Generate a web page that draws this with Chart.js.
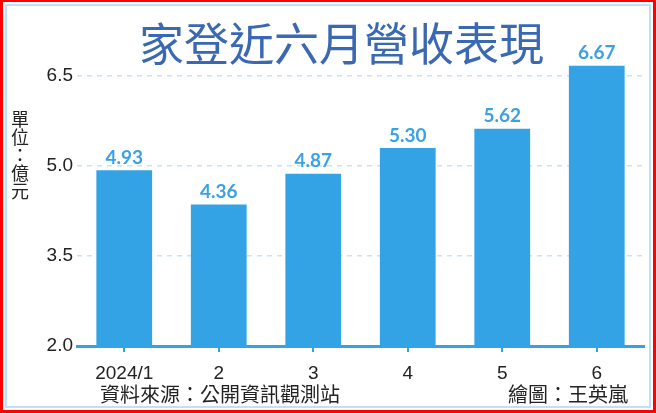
<!DOCTYPE html>
<html>
<head>
<meta charset="utf-8">
<script src="https://cdn.jsdelivr.net/npm/chart.js@4"></script>
<style>
    html, body { margin: 0; padding: 0; background: #fff; }
    #wrap { position: relative; width: 656px; height: 413px; overflow: hidden; font-family: "Noto Sans CJK TC", sans-serif; }
    #outer { position: absolute; left: 0; top: 0; width: 650px; height: 408px; border: 3px solid #ff0000; border-top-width: 2px; }
    #inner { position: absolute; left: 5px; top: 4px; width: 642px; height: 400px; border: 2px solid #bfe0f8; }
    canvas { position: absolute; left: 0; top: 0; }
    .txt { position: absolute; white-space: nowrap; color: #222; }
    #title { left: 139px; top: 9px; font-size: 45px; font-weight: 400; color: #3a68b3; }
    #unit { left: 11px; top: 110px; font-size: 18px; writing-mode: vertical-rl; line-height: 1; }
    #source { left: 100px; top: 382px; font-size: 20px; line-height: 1.2; }
    #credit { right: 28px; top: 382px; font-size: 20px; line-height: 1.2; }
</style>
</head>
<body>
<div id="wrap">
    <div id="outer"></div>
    <div id="inner"></div>
    <canvas id="revChart" width="656" height="413"></canvas>
    <div class="txt" id="title">家登近六月營收表現</div>
    <div class="txt" id="unit">單位：億元</div>
    <div class="txt" id="source">資料來源：公開資訊觀測站</div>
    <div class="txt" id="credit">繪圖：王英嵐</div>
</div>
<script>
// Monthly revenue (NT$ 100 million)
const months = ['2024/1', '2', '3', '4', '5', '6'];
const revenue = [4.93, 4.36, 4.87, 5.30, 5.62, 6.67];
const yTicks = [2.0, 3.5, 5.0, 6.5];

const barBlue = '#34a3e5';

// Value labels above each bar
const valueLabels = {
    id: 'valueLabels',
    afterDatasetsDraw(chart) {
        const ctx = chart.ctx;
        const meta = chart.getDatasetMeta(0);
        ctx.save();
        ctx.font = 'bold 19px Lato';
        ctx.fillStyle = '#3aa2e4';
        ctx.textAlign = 'center';
        ctx.textBaseline = 'bottom';
        meta.data.forEach((bar, i) => {
            ctx.fillText(revenue[i].toFixed(2), bar.x, bar.y - 3);
        });
        ctx.restore();
    },
};

new Chart(document.getElementById('revChart').getContext('2d'), {
    type: 'bar',
    data: {
        labels: months,
        datasets: [{
            data: revenue,
            backgroundColor: barBlue,
            barPercentage: 0.59,
            categoryPercentage: 1,
        }],
    },
    options: {
        responsive: false,
        animation: false,
        layout: { padding: { left: 0, right: 12, top: 46, bottom: 27 } },
        plugins: {
            legend: { display: false },
            tooltip: { enabled: false },
        },
        scales: {
            x: {
                offset: true,
                grid: {
                    offset: false,
                    drawOnChartArea: false,
                    drawTicks: true,
                    tickLength: 6,
                    color: barBlue,
                    lineWidth: 2,
                },
                border: { display: true, color: barBlue, width: 3 },
                ticks: {
                    color: '#222',
                    font: { family: 'Liberation Sans', size: 19 },
                    padding: 10,
                    maxRotation: 0,
                    autoSkip: false,
                },
                afterFit(scale) { scale.height = 40; },
            },
            y: {
                min: 2,
                max: 7,
                afterBuildTicks(scale) {
                    scale.ticks = yTicks.map(v => ({ value: v }));
                },
                ticks: {
                    color: '#222',
                    font: { family: 'Liberation Sans', size: 19 },
                    padding: 4,
                    callback: (v) => Number(v).toFixed(1),
                },
                grid: {
                    color: '#c6e4f8',
                    lineWidth: 1.5,
                    drawTicks: false,
                },
                border: { display: false, dash: [5, 5] },
                afterFit(scale) { scale.width = 77; },
            },
        },
    },
    plugins: [valueLabels],
});
</script>
</body>
</html>
